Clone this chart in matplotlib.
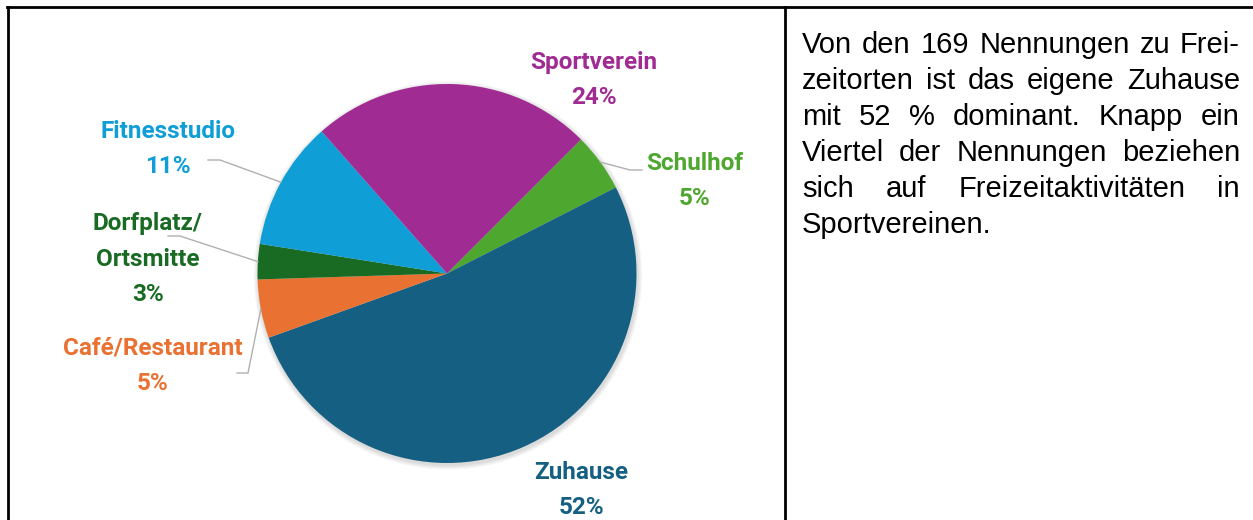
import matplotlib
matplotlib.use("Agg")
import matplotlib.pyplot as plt
from matplotlib.patches import Circle
import numpy as np

# data
categories = ["Schulhof", "Zuhause", "Café/Restaurant", "Dorfplatz/\nOrtsmitte", "Fitnesstudio", "Sportverein"]
shares = [5, 52, 5, 3, 11, 24]
colors = ["#4EA72E", "#156082", "#E97132", "#196B24", "#0F9ED5", "#A02B93"]

text_lines = [
    "Von den 169 Nennungen zu Frei-",
    "zeitorten ist das eigene Zuhause",
    "mit 52 % dominant. Knapp ein",
    "Viertel der Nennungen beziehen",
    "sich auf Freizeitaktivitäten in",
    "Sportvereinen.",
]

W, H = 1253, 520
fig = plt.figure(figsize=(W / 100, H / 100), dpi=100)
ax = fig.add_axes([0, 0, 1, 1])

# everything below is in pixel units, y measured from the top -> Y = H - y
cx, cy, R = 447, H - 273.5, 189.5

# soft shadow under the pie
for k in range(1, 7):
    ax.add_patch(Circle((cx + 1, cy - 2), R + k * 0.8, color="black", alpha=0.025, lw=0, zorder=1))

wedges, _ = ax.pie(shares, colors=colors, startangle=45, counterclock=False,
                   center=(cx, cy), radius=R, wedgeprops=dict(linewidth=0, zorder=2))
ax.set_xlim(0, W)
ax.set_ylim(0, H)
ax.set_aspect("auto")
ax.axis("off")

# label centres and leader elbows (pixel coords from top)
label_pos = [(695, 181), (581, 490), (153, 366), (148, 259), (168, 149), (594, 80)]
elbows = [[(630, 170), (642, 170)], None, [(248, 373), (237, 373)],
          [(180, 236), (168, 236)], [(220, 160), (208, 160)], None]

for w, name, val, col, (lx, ly), elb in zip(wedges, categories, shares, colors, label_pos, elbows):
    ax.text(lx, H - ly, f"{name}\n{val}%", color=col, fontsize=17.5, fontweight="bold",
            family=["Roboto", "DejaVu Sans"], ha="center", va="center", linespacing=1.72, zorder=5)
    if elb is not None:
        mid = np.deg2rad((w.theta1 + w.theta2) / 2)
        px = [cx + R * np.cos(mid)] + [p[0] for p in elb]
        py = [cy + R * np.sin(mid)] + [H - p[1] for p in elb]
        ax.plot(px, py, color="#b0b0b0", lw=1.0, zorder=4)

# table frame
ax.plot([7, W], [H - 6.5, H - 6.5], color="black", lw=2.0, solid_capstyle="projecting")
ax.plot([7.5, 7.5], [0, H - 6.5], color="black", lw=2.0)
ax.plot([785, 785], [0, H - 6.5], color="black", lw=2.0)

# justified text block on the right
x0, x1 = 802, 1240
fs = 21
fig.canvas.draw()
renderer = fig.canvas.get_renderer()
for i, line in enumerate(text_lines):
    y = H - (53 + 36 * i)
    if i == len(text_lines) - 1:
        ax.text(x0, y, line, fontsize=fs, family="Liberation Sans", va="baseline", ha="left")
        continue
    words = line.split()
    ts = [ax.text(0, y, wd, fontsize=fs, family="Liberation Sans", va="baseline", ha="left") for wd in words]
    widths = [t.get_window_extent(renderer).width for t in ts]
    gap = (x1 - x0 - sum(widths)) / (len(words) - 1)
    x = x0
    for t, wd in zip(ts, widths):
        t.set_x(x)
        x += wd + gap

fig.savefig("out.png", dpi=100)
